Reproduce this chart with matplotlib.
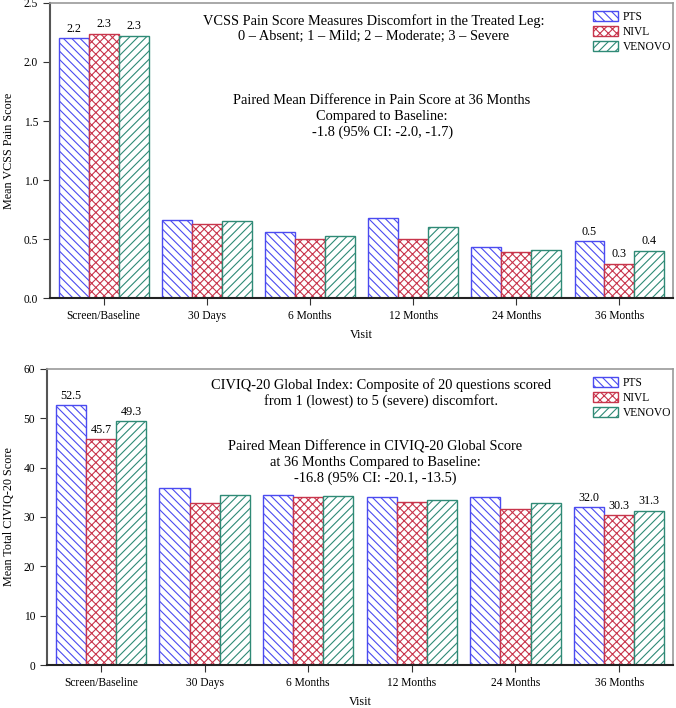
import numpy as np
import matplotlib
matplotlib.use("Agg")
import matplotlib.pyplot as plt
from matplotlib.patches import Patch

plt.rcParams["font.family"] = ["Liberation Serif", "DejaVu Serif"]
plt.rcParams["hatch.linewidth"] = 0.8

visits = ["Screen/Baseline", "30 Days", "6 Months", "12 Months", "24 Months", "36 Months"]
groups = ["PTS", "NIVL", "VENOVO"]

# mean VCSS pain score
vcss_pts = [2.20, 0.66, 0.56, 0.68, 0.43, 0.48]
vcss_nivl = [2.24, 0.63, 0.50, 0.50, 0.39, 0.29]
vcss_venovo = [2.22, 0.65, 0.53, 0.60, 0.41, 0.40]
vcss_labels = {0: ["2.2", "2.3", "2.3"], 5: ["0.5", "0.3", "0.4"]}

# mean CIVIQ-20 score
civiq_pts = [52.6, 35.8, 34.5, 34.0, 34.1, 32.0]
civiq_nivl = [45.7, 32.9, 34.0, 33.0, 31.6, 30.3]
civiq_venovo = [49.4, 34.4, 34.2, 33.5, 32.9, 31.3]
civiq_labels = {0: ["52.5", "45.7", "49.3"], 5: ["32.0", "30.3", "31.3"]}

COLORS = ["#4b4bf0", "#c8354c", "#2f8a76"]
HATCHES = ["\\\\\\\\", "xxxx", "////"]
WIDTH = 0.29
FS = 8.3

vcss_note1 = "VCSS Pain Score Measures Discomfort in the Treated Leg:\n0 \u2013 Absent; 1 \u2013 Mild; 2 \u2013 Moderate; 3 \u2013 Severe"
vcss_note2 = "Paired Mean Difference in Pain Score at 36 Months\nCompared to Baseline:\n-1.8 (95% CI: -2.0, -1.7)"
civiq_note1 = "CIVIQ-20 Global Index: Composite of 20 questions scored\nfrom 1 (lowest) to 5 (severe) discomfort."
civiq_note2 = "Paired Mean Difference in CIVIQ-20 Global Score\nat 36 Months Compared to Baseline:\n-16.8 (95% CI: -20.1, -13.5)"


def draw_panel(ax, series, labels, ylim, yticks, yfmt, ylabel, note1, note2, note_pos):
    x = np.arange(len(visits))
    for i, vals in enumerate(series):
        pos = x + (i - 1) * WIDTH
        ax.bar(pos, vals, WIDTH, facecolor="white", edgecolor=COLORS[i],
               hatch=HATCHES[i], linewidth=1.0, label=groups[i])
        for g, labs in labels.items():
            ax.text(pos[g], vals[g] + (ylim[1] * 0.012), labs[i], ha="center",
                    va="bottom", fontsize=FS + 0.4)
    ax.set_xlim(-0.52, 5.52)
    ax.set_ylim(*ylim)
    ax.set_xticks(x)
    ax.set_xticklabels(visits, fontsize=FS)
    ax.set_yticks(yticks)
    ax.set_yticklabels([yfmt.format(v) for v in yticks], fontsize=FS)
    ax.set_xlabel("Visit", fontsize=FS + 0.4, labelpad=5)
    ax.set_ylabel(ylabel, fontsize=FS + 0.4, labelpad=6)
    ax.tick_params(axis="both", direction="out", length=5, color="#333333")
    for s in ["top", "right"]:
        ax.spines[s].set_color("#999999")
        ax.spines[s].set_linewidth(1.2)
    ax.spines["left"].set_color("#555555")
    ax.spines["left"].set_linewidth(1.5)
    ax.spines["bottom"].set_color("#222222")
    ax.spines["bottom"].set_linewidth(1.5)
    ax.text(note_pos[0], note_pos[1], note1, transform=ax.transAxes, ha="center",
            va="top", fontsize=10.4, linespacing=1.22)
    ax.text(note_pos[2], note_pos[3], note2, transform=ax.transAxes, ha="center",
            va="top", fontsize=10.4, linespacing=1.25)
    handles = [Patch(facecolor="white", edgecolor=COLORS[i], hatch=HATCHES[i], label=groups[i])
               for i in range(3)]
    ax.legend(handles=handles, loc="upper right", frameon=False, fontsize=FS,
              handlelength=2.2, handleheight=0.9, handletextpad=0.4,
              labelspacing=0.25, borderaxespad=0.3, bbox_to_anchor=(1.01, 1.0))


fig = plt.figure(figsize=(6.76, 7.08), dpi=100)
ax1 = fig.add_axes([0.074, 0.579, 0.9216, 0.4168])
ax2 = fig.add_axes([0.0695, 0.0607, 0.9261, 0.4183])

draw_panel(ax1, [vcss_pts, vcss_nivl, vcss_venovo], vcss_labels, (0, 2.5),
           [0, 0.5, 1.0, 1.5, 2.0, 2.5], "{:.1f}", "Mean VCSS Pain Score",
           vcss_note1, vcss_note2, (0.52, 0.962, 0.533, 0.69))
draw_panel(ax2, [civiq_pts, civiq_nivl, civiq_venovo], civiq_labels, (0, 60),
           [0, 10, 20, 30, 40, 50, 60], "{:.0f}", "Mean Total CIVIQ-20 Score",
           civiq_note1, civiq_note2, (0.534, 0.97, 0.524, 0.758))

fig.savefig("out.png", dpi=100)
